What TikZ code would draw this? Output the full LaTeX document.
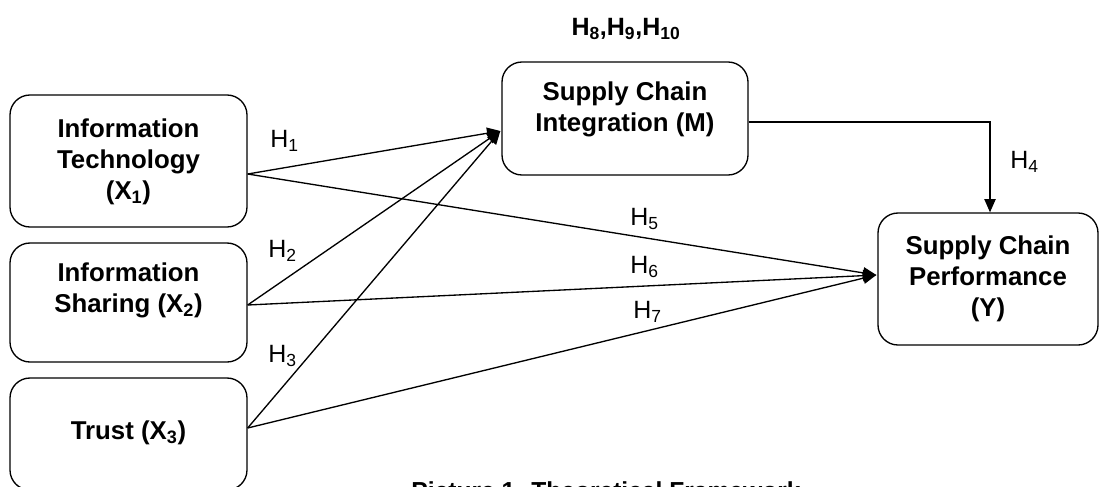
\documentclass[tikz,border=0pt]{standalone}
\usepackage{fontspec}
\setmainfont{Liberation Sans}
\usetikzlibrary{arrows.meta,calc}
\begin{document}
\begin{tikzpicture}[x=0.75pt,y=-0.75pt,
  box/.style={draw,line width=1pt,rounded corners=15pt,inner sep=0pt},
  btext/.style={font=\fontsize{19.35}{23.25}\selectfont\bfseries,align=center,inner sep=0pt},
  hyp/.style={font=\fontsize{18.75}{22}\selectfont,inner sep=0pt,anchor=base west},
  conn/.style={line width=1pt,-{Triangle[length=10pt,width=8.5pt]}}]
\clip (0,0) rectangle (1099,486);
% boxes
\node[box,minimum width=177.75pt,minimum height=99pt] (x1) at (128.5,161) {};
\node[box,minimum width=177.75pt,minimum height=89.25pt] (x2) at (128.5,302.5) {};
\node[box,minimum width=177.75pt,minimum height=84pt] (x3) at (128.5,434) {};
\node[box,minimum width=184.5pt,minimum height=84.75pt] (m) at (625,118.5) {};
\node[box,minimum width=165pt,minimum height=99pt] (y) at (988,279) {};
% box texts
\node[btext] (x1t) at (128.5,162) {Information\\Technology\\(X\textsubscript{1})};
\node[btext] (x2t) at (128.5,290) {Information\\Sharing (X\textsubscript{2})};
\node[btext] (x3t) at (128.5,433) {Trust (X\textsubscript{3})};
\node[btext] (mt) at (625,109) {Supply Chain\\Integration (M)};
\node[btext] (yt) at (988,279) {Supply Chain\\Performance\\(Y)};
% connector ends
\coordinate (x1o) at ($(x1.east)+(0,13)$);
\coordinate (x2o) at ($(x2.east)+(0,2.5)$);
\coordinate (x3o) at ($(x3.east)+(0,-6)$);
\coordinate (mIn) at ($(m.west)+(-1,12.5)$);
\coordinate (yIn) at ($(y.west)+(-1,-4)$);
\coordinate (mOut) at ($(m.east)+(0,3.5)$);
\coordinate (yTop) at ($(y.north)+(2,0)$);
% connectors
\draw[conn] (x1o) -- (mIn);
\draw[conn] (x2o) -- (mIn);
\draw[conn] (x3o) -- (mIn);
\draw[conn] (x1o) -- (yIn);
\draw[conn] (x2o) -- (yIn);
\draw[conn] (x3o) -- (yIn);
\draw[conn] (mOut) -| (yTop);
% hypothesis labels
\node[hyp] (h1) at (270,147) {H\textsubscript{1}};
\node[hyp] (h2) at (268,257) {H\textsubscript{2}};
\node[hyp] (h3) at (268,362) {H\textsubscript{3}};
\node[hyp] (h4) at (1010,168) {H\textsubscript{4}};
\node[hyp] (h5) at (630,225) {H\textsubscript{5}};
\node[hyp] (h6) at (630,273) {H\textsubscript{6}};
\node[hyp] (h7) at (633,318) {H\textsubscript{7}};
\node[font=\fontsize{18.75}{22}\selectfont\bfseries,inner sep=0pt,anchor=base] (h8) at (626,35) {H\textsubscript{8},H\textsubscript{9},H\textsubscript{10}};
% caption (cut off at bottom edge)
\node[font=\fontsize{18.45}{22}\selectfont\bfseries,inner sep=0pt,anchor=base] (cap) at (606,499) {Picture 1. Theoretical Framework};
\end{tikzpicture}
\end{document}
